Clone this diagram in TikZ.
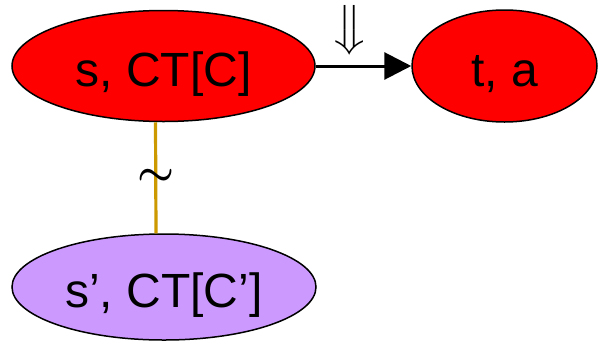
\documentclass[tikz,border=0pt]{standalone}
\usepackage{fontspec}
\usepackage{amsmath,bm}
\setmainfont{Liberation Sans}
\usetikzlibrary{shapes,arrows.meta,positioning}
\definecolor{nodered}{RGB}{255,0,0}
\definecolor{nodelilac}{RGB}{204,153,255}
\definecolor{simgold}{RGB}{204,153,0}
\tikzstyle{state} = [draw,ellipse,line width=0.75pt,inner sep=0,font=\fontsize{24}{25}\selectfont,text height=20pt,text depth=0pt]
\tikzstyle{trans} = [-{Triangle[length=13.5pt,width=13.5pt]},line width=1.5pt]
\tikzstyle{simil} = [draw=simgold,line width=1.6pt]

\begin{document}
\begin{tikzpicture}[x=0.5pt,y=-0.5pt]
  \useasboundingbox (0,0) rectangle (598,343);
  \node[state,fill=nodered,minimum width=151.5pt,minimum height=55.5pt] (s) at (163.5,66) {s, CT[C]};
  \node[state,fill=nodered,minimum width=92.5pt,minimum height=56pt] (t) at (504.5,66) {t, a};
  \node[state,fill=nodelilac,minimum width=152pt,minimum height=53pt] (sp) at (164,287) {s’, CT[C’]};
  \draw[trans] (s.east) -- (t.west);
  \node[inner sep=0,font=\fontsize{21}{18.5}\selectfont] (imp) at (350,30) {$\big\Downarrow$};
  \coordinate (stop) at ([xshift=-4pt]s.south);
  \coordinate (sbot) at ([xshift=-4pt]sp.north);
  \draw[simil] (stop) -- (sbot) node[midway] (eq) {\fontsize{20}{20}\selectfont$\bm{\sim}$};
\end{tikzpicture}
\end{document}
